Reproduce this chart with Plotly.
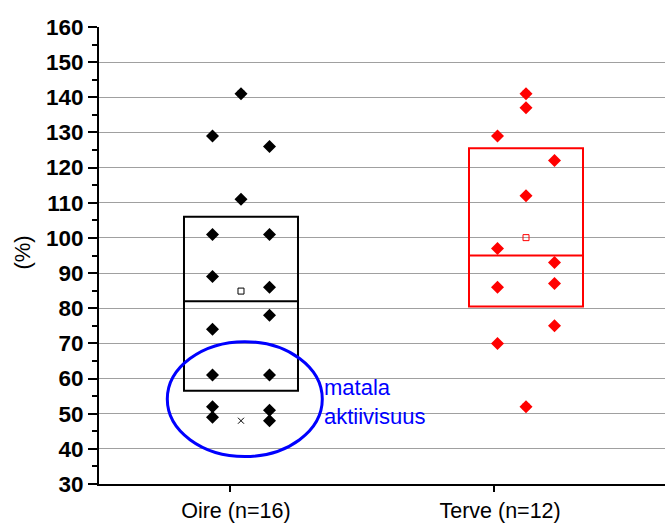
import numpy as np
import plotly.graph_objects as go

# ---- data ----
categories = ["Oire (n=16)", "Terve (n=12)"]
oire = [141, 129, 126, 111, 101, 101, 89, 86, 74, 78, 61, 61, 52, 51, 49, 48]
terve = [141, 137, 129, 122, 112, 97, 93, 86, 87, 70, 75, 52]
y_ticks = list(range(30, 161, 10))
note_text = ["matala", "aktiivisuus"]

# ---- styling / layout constants ----
colors = ["#000000", "#FF0000"]
centers = [1, 2]
tick_pos = [0.961, 1.888]
FONT = "Arial, Liberation Sans, sans-serif"


def hinges(vals):
    s = sorted(vals)
    n = len(s)
    lo = s[: n // 2]
    hi = s[(n + 1) // 2:]
    return float(np.median(lo)), float(np.median(s)), float(np.median(hi))


def spread(vals, center, binw=10, step=0.2):
    bins = {}
    for i, v in enumerate(vals):
        bins.setdefault(int(v // binw), []).append(i)
    xs = [0.0] * len(vals)
    for idxs in bins.values():
        n = len(idxs)
        for k, i in enumerate(idxs):
            xs[i] = center + (k - (n - 1) / 2) * step
    return xs


fig = go.Figure()
for vals, c, col in zip([oire, terve], centers, colors):
    q1, med, q3 = hinges(vals)
    fig.add_trace(go.Box(
        x=[c], q1=[q1], median=[med], q3=[q3], lowerfence=[q1], upperfence=[q3],
        width=0.4, whiskerwidth=0, line=dict(color=col, width=2),
        fillcolor="rgba(0,0,0,0)", showlegend=False, hoverinfo="skip"))
    # min / max crosses
    fig.add_trace(go.Scatter(
        x=[c, c], y=[min(vals), max(vals)], mode="markers",
        marker=dict(symbol="x-thin-open", size=6, color=col, line=dict(color=col, width=1)),
        showlegend=False))
    # mean
    fig.add_trace(go.Scatter(
        x=[c], y=[float(np.mean(vals))], mode="markers",
        marker=dict(symbol="square-open", size=6, color=col, line=dict(color=col, width=1)),
        showlegend=False))
    # data points
    fig.add_trace(go.Scatter(
        x=spread(vals, c), y=vals, mode="markers",
        marker=dict(symbol="diamond", size=10, color=col, line=dict(width=0)),
        showlegend=False))

# ellipse + note
fig.add_shape(type="circle", xref="x", yref="y", x0=0.7414, x1=1.2853, y0=37.8, y1=70.5,
              line=dict(color="#0000FF", width=3))
fig.add_annotation(x=1.284, y=53.2, xref="x", yref="y", text="<br>".join(note_text),
                   showarrow=False, xanchor="left", yanchor="middle", align="left",
                   font=dict(family=FONT, size=22, color="#0000FF"))
fig.add_annotation(x=-0.136, y=0.5, xref="paper", yref="paper", text="(%)", textangle=-90,
                   showarrow=False, xanchor="center", yanchor="middle", yshift=3,
                   font=dict(family=FONT, size=22, color="#000000"))

fig.update_xaxes(range=[0.5018, 2.4877], tickvals=tick_pos, ticktext=categories,
                 showline=True, linecolor="#000000", linewidth=2, ticks="outside",
                 ticklen=6, tickwidth=1.5, tickcolor="#000000", showgrid=False,
                 zeroline=False, ticklabelshift=6,
                 tickfont=dict(family=FONT, size=21.5, color="#000000"))
fig.update_yaxes(range=[30, 160], tickvals=y_ticks, showline=True, linecolor="#000000",
                 linewidth=2, ticks="outside", ticklen=9, tickwidth=1.5, tickcolor="#000000",
                 showgrid=True, gridcolor="#A0A0A0", gridwidth=1, zeroline=False,
                 minor=dict(dtick=5, tick0=35, ticks="outside", ticklen=5, tickwidth=1.5,
                            tickcolor="#000000", showgrid=False),
                 tickfont=dict(family=FONT, size=22.5, color="#000000", weight="bold"))
fig.update_layout(width=665, height=525, margin=dict(l=99, r=0, t=27, b=41, autoexpand=False),
                  plot_bgcolor="#FFFFFF", paper_bgcolor="#FFFFFF", showlegend=False,
                  font=dict(family=FONT))
fig.write_html("out.html")
